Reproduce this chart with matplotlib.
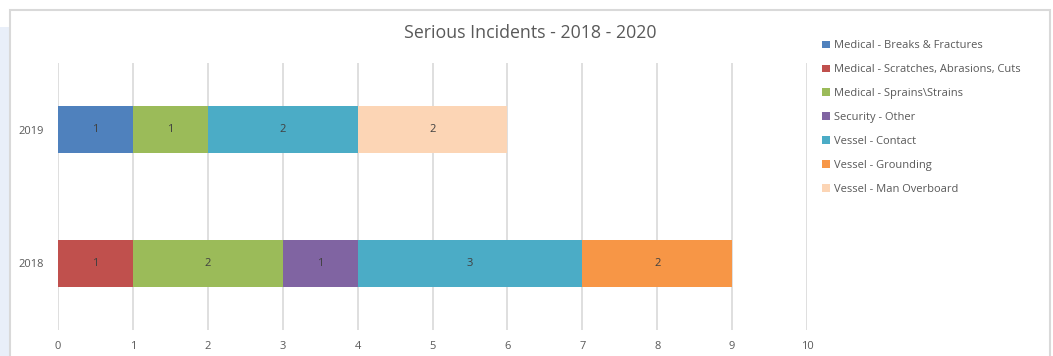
import matplotlib
matplotlib.use('Agg')
import matplotlib.pyplot as plt
from matplotlib.patches import Patch, Rectangle
import numpy as np

plt.rcParams['font.family'] = ['Open Sans', 'DejaVu Sans']

years = ['2018', '2019']
series = [
    'Medical - Breaks & Fractures',
    'Medical - Scratches, Abrasions, Cuts',
    'Medical - Sprains\\Strains',
    'Security - Other',
    'Vessel - Contact',
    'Vessel - Grounding',
    'Vessel - Man Overboard',
]
# counts per series: [2018, 2019]
breaks_fractures = [0, 1]
scratches = [1, 0]
sprains = [2, 1]
security_other = [1, 0]
vessel_contact = [3, 2]
vessel_grounding = [2, 0]
man_overboard = [0, 2]
values = [breaks_fractures, scratches, sprains, security_other,
          vessel_contact, vessel_grounding, man_overboard]
colors = ['#4F81BD', '#C0504D', '#9BBB59', '#8064A2', '#4BACC6', '#F79646', '#FCD5B5']

W, H = 1053, 356
fig = plt.figure(figsize=(W / 100, H / 100), dpi=100)

# outer chart frame and side strip
fig.patches.append(Rectangle((0, 0), 10 / W, (H - 27) / H, transform=fig.transFigure,
                             facecolor='#e9eff9', edgecolor='none', zorder=-3))
fig.patches.append(Rectangle((10 / W, -0.05), (1050 - 10) / W, (H - 10) / H + 0.05,
                             transform=fig.transFigure, facecolor='white',
                             edgecolor='#d9d9d9', linewidth=1.5, zorder=-2))

ax = fig.add_axes([58 / W, (H - 330) / H, (807 - 58) / W, (330 - 63) / H])
ax.set_facecolor('none')

y = np.arange(len(years))
left = np.zeros(len(years))
for name, vals, c in zip(series, values, colors):
    vals = np.array(vals, dtype=float)
    bars = ax.barh(y, vals, left=left, height=0.35, color=c, label=name, zorder=3)
    for b, v in zip(bars, vals):
        if v > 0:
            ax.text(b.get_x() + b.get_width() / 2, b.get_y() + b.get_height() / 2,
                    f'{int(v)}', ha='center', va='center', fontsize=8, color='#404040',
                    zorder=4)
    left += vals

ax.set_xlim(0, 10)
ax.set_ylim(-0.5, 1.5)
ax.set_xticks(range(0, 11))
ax.set_yticks(y)
ax.set_yticklabels(years)
ax.grid(axis='x', color='#d9d9d9', linewidth=1.2, zorder=0)
ax.set_axisbelow(True)
ax.tick_params(length=0, labelsize=8, labelcolor='#595959')
ax.tick_params(axis='x', pad=8)
ax.tick_params(axis='y', pad=10)
for s in ax.spines.values():
    s.set_visible(False)

fig.text(530 / W, 1 - 33 / H, 'Serious Incidents - 2018 - 2020', ha='center', va='center',
         fontsize=12.8, color='#595959')

handles = [Patch(facecolor=c, edgecolor='none') for c in colors]
fig.legend(handles, series, loc='upper left', bbox_to_anchor=(818 / W, 1 - 36 / H),
           frameon=False, fontsize=8, labelcolor='#595959', handlelength=0.7,
           handleheight=0.7, handletextpad=0.3, labelspacing=1.16, borderaxespad=0)

fig.savefig('out.png', dpi=100)
